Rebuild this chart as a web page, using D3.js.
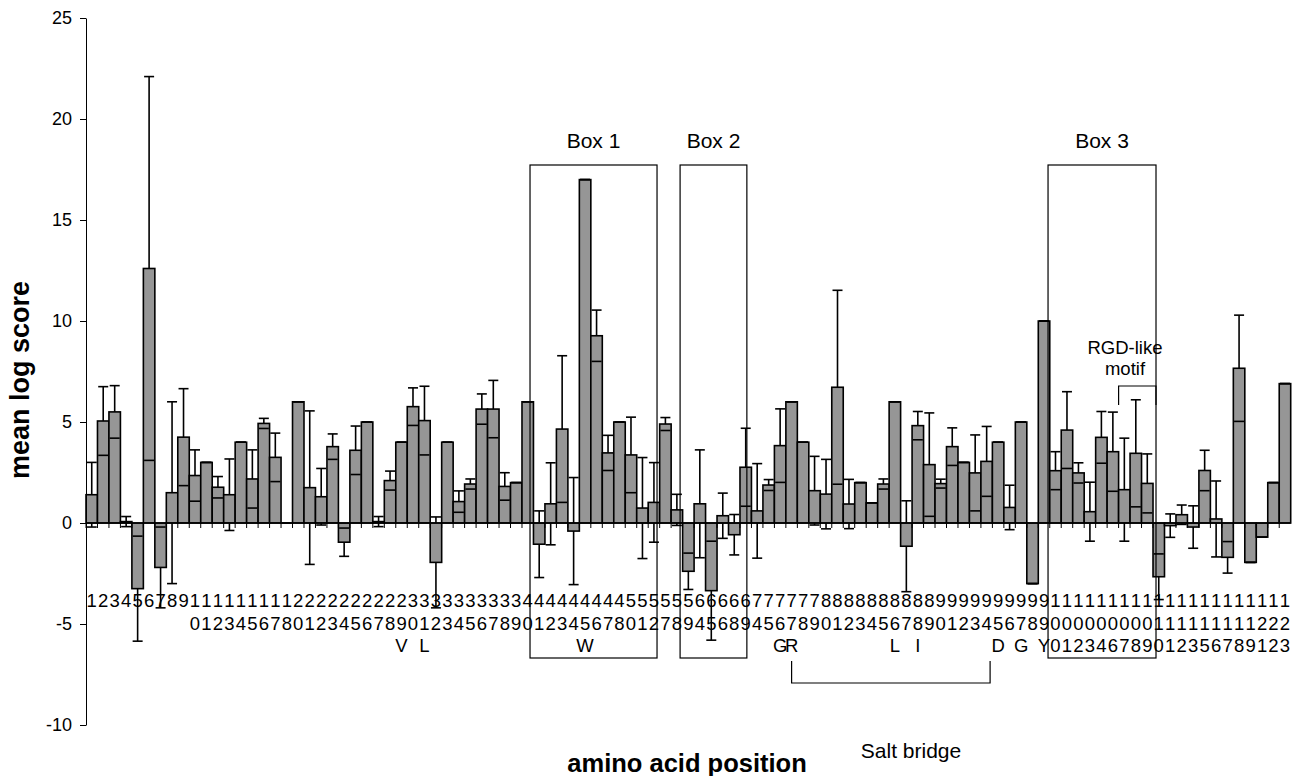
<!DOCTYPE html>
<html lang="en">
<head>
<meta charset="utf-8">
<title>mean log score by amino acid position</title>
<script src="https://cdn.jsdelivr.net/npm/d3@7"></script>
<style>
	body { margin: 0; background: #fff; }
	svg text { font-family: "Liberation Sans", Arial, Helvetica, sans-serif; fill: #000; }
</style>
</head>
<body>
<script>
var positions = [1,2,3,4,5,6,7,8,9,10,11,12,13,14,15,16,17,18,
	20,21,22,23,24,25,26,27,28,29,30,31,32,33,34,35,36,37,38,39,40,41,42,43,44,45,46,47,48,
	50,51,52,57,58,59,64,65,66,68,69,
	74,75,76,77,78,79,80,81,82,83,84,85,86,87,88,89,90,91,92,93,94,95,96,97,98,99,
	100,101,102,103,104,106,107,108,109,110,111,112,113,115,116,117,118,119,121,122,123];

var means = [1.4,5.05,5.5,0.07,-3.25,12.6,-2.2,1.5,4.25,2.35,3.0,1.77,1.4,4.0,2.18,4.93,3.25,0,
	6.0,1.75,1.3,3.78,-0.95,3.6,5.0,0.07,2.1,4.0,5.76,5.07,-1.95,4.0,1.06,1.93,5.64,5.64,1.81,2.0,6.0,-1.05,0.95,4.65,-0.4,17.0,9.27,3.47,5.0,
	3.37,0.74,1.02,4.9,0.65,-2.39,0.95,-3.35,0.36,-0.58,2.76,
	0.6,1.88,3.83,6.0,4.0,1.6,1.43,6.72,0.94,2.0,1.0,1.93,6.0,-1.15,4.82,2.89,1.95,3.78,3.0,2.48,3.05,4.0,0.77,5.0,-3.0,10.0,
	2.59,4.6,2.48,0.56,4.24,3.53,1.65,3.45,1.96,-2.66,-0.13,0.41,-0.2,2.6,0.2,-1.7,7.66,-1.95,-0.7,2.0,6.9];

var errors = [1.6,1.7,1.3,0.25,2.6,9.5,2.0,4.5,2.4,1.27,0,0.53,1.77,0,1.44,0.25,1.2,0,
	0,3.8,1.4,0.63,0.7,1.2,0,0.25,0.47,0,0.93,1.7,2.25,0,0.53,0.25,0.75,1.42,0.68,0,0,1.65,2.03,3.63,2.65,0,1.27,0.87,0,
	1.87,2.5,1.97,0.32,0.77,0.9,2.67,2.45,1.12,1.0,1.93,
	2.34,0.27,1.82,0,0,1.7,1.72,4.8,1.22,0,0,0.25,0,2.25,0.7,2.56,0.22,0.93,0,1.88,1.73,0,1.1,0,0,0,
	0.94,1.9,0.5,1.46,1.28,1.96,2.55,2.65,1.46,1.13,0.58,0.48,1.05,1.0,1.88,0.78,2.63,0,0,0,0];

var residuePos = [29,31,45,76,77,86,88,95,97,99];
var residueLetters = ['V','L','W','G','R','L','I','D','G','Y'];

var yTicks = [-10,-5,0,5,10,15,20,25];

var boxLabels = ['Box 1','Box 2','Box 3'];
var boxStart = ['40','58','99'];
var boxEnd = ['52','69','110'];

var w = 1292, h = 776;
var svg = d3.select('body').append('svg').attr('width', w).attr('height', h);

var x = d3.scaleBand().domain(positions.map(String)).range([86, 1290.7]).padding(0);
var y = d3.scaleLinear().domain([-10, 25]).range([725, 18]);
var bw = x.bandwidth();

var data = positions.map(function(p, i) {
	return {pos: String(p), mean: means[i], err: errors[i]};
});

// error bar stems sit behind the bars, caps on top
svg.append('g').selectAll('line').data(data).enter().append('line')
	.attr('x1', function(d) { return x(d.pos) + bw/2; })
	.attr('x2', function(d) { return x(d.pos) + bw/2; })
	.attr('y1', function(d) { return y(d.mean + d.err); })
	.attr('y2', function(d) { return y(d.mean - d.err); })
	.attr('stroke', '#000').attr('stroke-width', 1.6);

svg.append('g').selectAll('rect').data(data).enter().append('rect')
	.attr('x', function(d) { return x(d.pos); })
	.attr('y', function(d) { return y(Math.max(0, d.mean)); })
	.attr('width', bw)
	.attr('height', function(d) { return Math.abs(y(d.mean) - y(0)); })
	.attr('fill', '#969696').attr('stroke', '#000').attr('stroke-width', 1.6);

var caps = svg.append('g');
data.forEach(function(d) {
	[d.mean + d.err, d.mean - d.err].forEach(function(v) {
		caps.append('line')
			.attr('x1', x(d.pos) + bw/2 - 5).attr('x2', x(d.pos) + bw/2 + 5)
			.attr('y1', y(v)).attr('y2', y(v))
			.attr('stroke', '#000').attr('stroke-width', 1.6);
	});
});

// zero line with ticks between categories
svg.append('line')
	.attr('x1', 86).attr('x2', 1290.7).attr('y1', y(0)).attr('y2', y(0))
	.attr('stroke', '#000').attr('stroke-width', 1.6);
svg.append('g').selectAll('line').data(positions.map(String)).enter().append('line')
	.attr('x1', function(d) { return x(d); }).attr('x2', function(d) { return x(d); })
	.attr('y1', y(0)).attr('y2', y(0) + 5)
	.attr('stroke', '#000').attr('stroke-width', 1);

// y axis
var gy = svg.append('g').attr('transform', 'translate(86,0)')
	.call(d3.axisLeft(y).tickValues(yTicks).tickFormat(function(d) { return String(d); })
		.tickSize(6).tickSizeOuter(0).tickPadding(8));
gy.selectAll('text').attr('font-size', 18).style('font-family', '"Liberation Sans", Arial, sans-serif');
gy.select('.domain').attr('stroke', '#000');

// category labels: digits stacked, residue letter underneath
var gx = svg.append('g').attr('transform', 'translate(0,607)')
	.call(d3.axisBottom(x).tickSize(0).tickPadding(0));
gx.select('.domain').remove();
gx.selectAll('.tick text').each(function(p) {
	var t = d3.select(this);
	t.text(null).attr('y', 0).attr('dy', null)
		.attr('font-size', 18.5).style('font-family', '"Liberation Sans", Arial, sans-serif');
	var lines = p.split('');
	var k = residuePos.indexOf(+p);
	if (k >= 0) lines.push(residueLetters[k]);
	lines.forEach(function(c, j) {
		t.append('tspan').attr('x', 0).attr('y', j * 22.7).text(c);
	});
});

// boxes
var boxOff = [[0.7, 0.77], [0.78, 0.6], [0.85, 0.26]];
boxLabels.forEach(function(lab, i) {
	var x1 = x(boxStart[i]) + boxOff[i][0] * bw;
	var x2 = x(boxEnd[i]) + boxOff[i][1] * bw;
	svg.append('rect')
		.attr('x', x1).attr('y', 165).attr('width', x2 - x1).attr('height', 493)
		.attr('fill', 'none').attr('stroke', '#000').attr('stroke-width', 1.2);
	svg.append('text').attr('x', (x1 + x2) / 2).attr('y', 148)
		.attr('text-anchor', 'middle').attr('font-size', 21).text(lab);
});

// RGD-like motif bracket
var r1 = x('107'), r2 = x(boxEnd[2]) + boxOff[2][1] * bw;
svg.append('path')
	.attr('d', 'M' + r1 + ',405V386H' + r2 + 'V405')
	.attr('fill', 'none').attr('stroke', '#000').attr('stroke-width', 1.2);
svg.append('text').attr('x', 1125).attr('y', 354).attr('text-anchor', 'middle')
	.attr('font-size', 18.5).text('RGD-like');
svg.append('text').attr('x', 1125).attr('y', 375).attr('text-anchor', 'middle')
	.attr('font-size', 18.5).text('motif');

// salt bridge bracket
var s1 = x('77') + bw/2, s2 = x('94') + 0.8 * bw;
svg.append('path')
	.attr('d', 'M' + s1 + ',661V683H' + s2 + 'V661')
	.attr('fill', 'none').attr('stroke', '#000').attr('stroke-width', 1.2);
svg.append('text').attr('x', 911).attr('y', 758).attr('text-anchor', 'middle')
	.attr('font-size', 21).text('Salt bridge');

// axis titles
svg.append('text').attr('transform', 'translate(29,380) rotate(-90)')
	.attr('text-anchor', 'middle').attr('font-size', 27).attr('font-weight', 'bold')
	.text('mean log score');
svg.append('text').attr('x', 687).attr('y', 772)
	.attr('text-anchor', 'middle').attr('font-size', 25.5).attr('font-weight', 'bold')
	.text('amino acid position');
</script>
</body>
</html>
